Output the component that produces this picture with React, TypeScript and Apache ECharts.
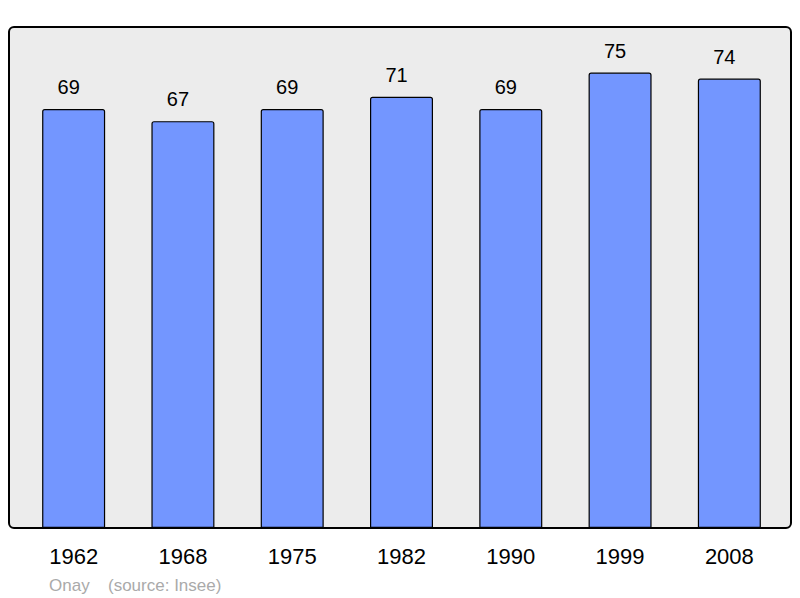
import React, { useEffect, useRef } from "react";
import * as echarts from "echarts";

const years = ["1962", "1968", "1975", "1982", "1990", "1999", "2008"];
const population = [69, 67, 69, 71, 69, 75, 74];
const footerPlace = "Onay";
const footerSource = "(source: Insee)";

export default function App() {
  const ref = useRef<HTMLDivElement>(null);
  useEffect(() => {
    if (!ref.current) return;
    const chart = echarts.init(ref.current, null, { renderer: "svg" });
    const font = "'Liberation Sans', Arial, sans-serif";
    chart.setOption({
      animation: false,
      graphic: [
        {
          type: "rect",
          z: -10,
          shape: { x: 9, y: 27, width: 782, height: 501, r: 5 },
          style: { fill: "#ececec", stroke: "#000", lineWidth: 2 },
        },
        {
          type: "text",
          x: 49,
          y: 585,
          style: { text: footerPlace, fill: "#aaaaaa", font: `17px ${font}`, textVerticalAlign: "middle" },
        },
        {
          type: "text",
          x: 108,
          y: 585,
          style: { text: footerSource, fill: "#aaaaaa", font: `17px ${font}`, textVerticalAlign: "middle" },
        },
      ],
      grid: { left: 19, right: 16, top: 27, bottom: 70, containLabel: false },
      xAxis: {
        type: "category",
        data: years,
        axisLine: { show: false },
        axisTick: { show: false },
        axisLabel: { color: "#000", fontSize: 22, fontFamily: font, margin: 17 },
      },
      yAxis: {
        type: "value",
        min: 0,
        max: 82.5,
        show: false,
        splitLine: { show: false },
      },
      series: [
        {
          type: "bar",
          data: population,
          barWidth: 63,
          itemStyle: { color: "#7396ff", borderColor: "#000", borderWidth: 1.2, borderRadius: [2, 2, 0, 0] },
          label: {
            show: true,
            position: "top",
            distance: 12,
            offset: [-5, 0],
            color: "#000",
            fontSize: 20,
            fontFamily: font,
          },
        },
      ],
    });
    return () => chart.dispose();
  }, []);
  return <div ref={ref} style={{ width: 800, height: 598, position: "absolute", left: 0, top: 0 }} />;
}
